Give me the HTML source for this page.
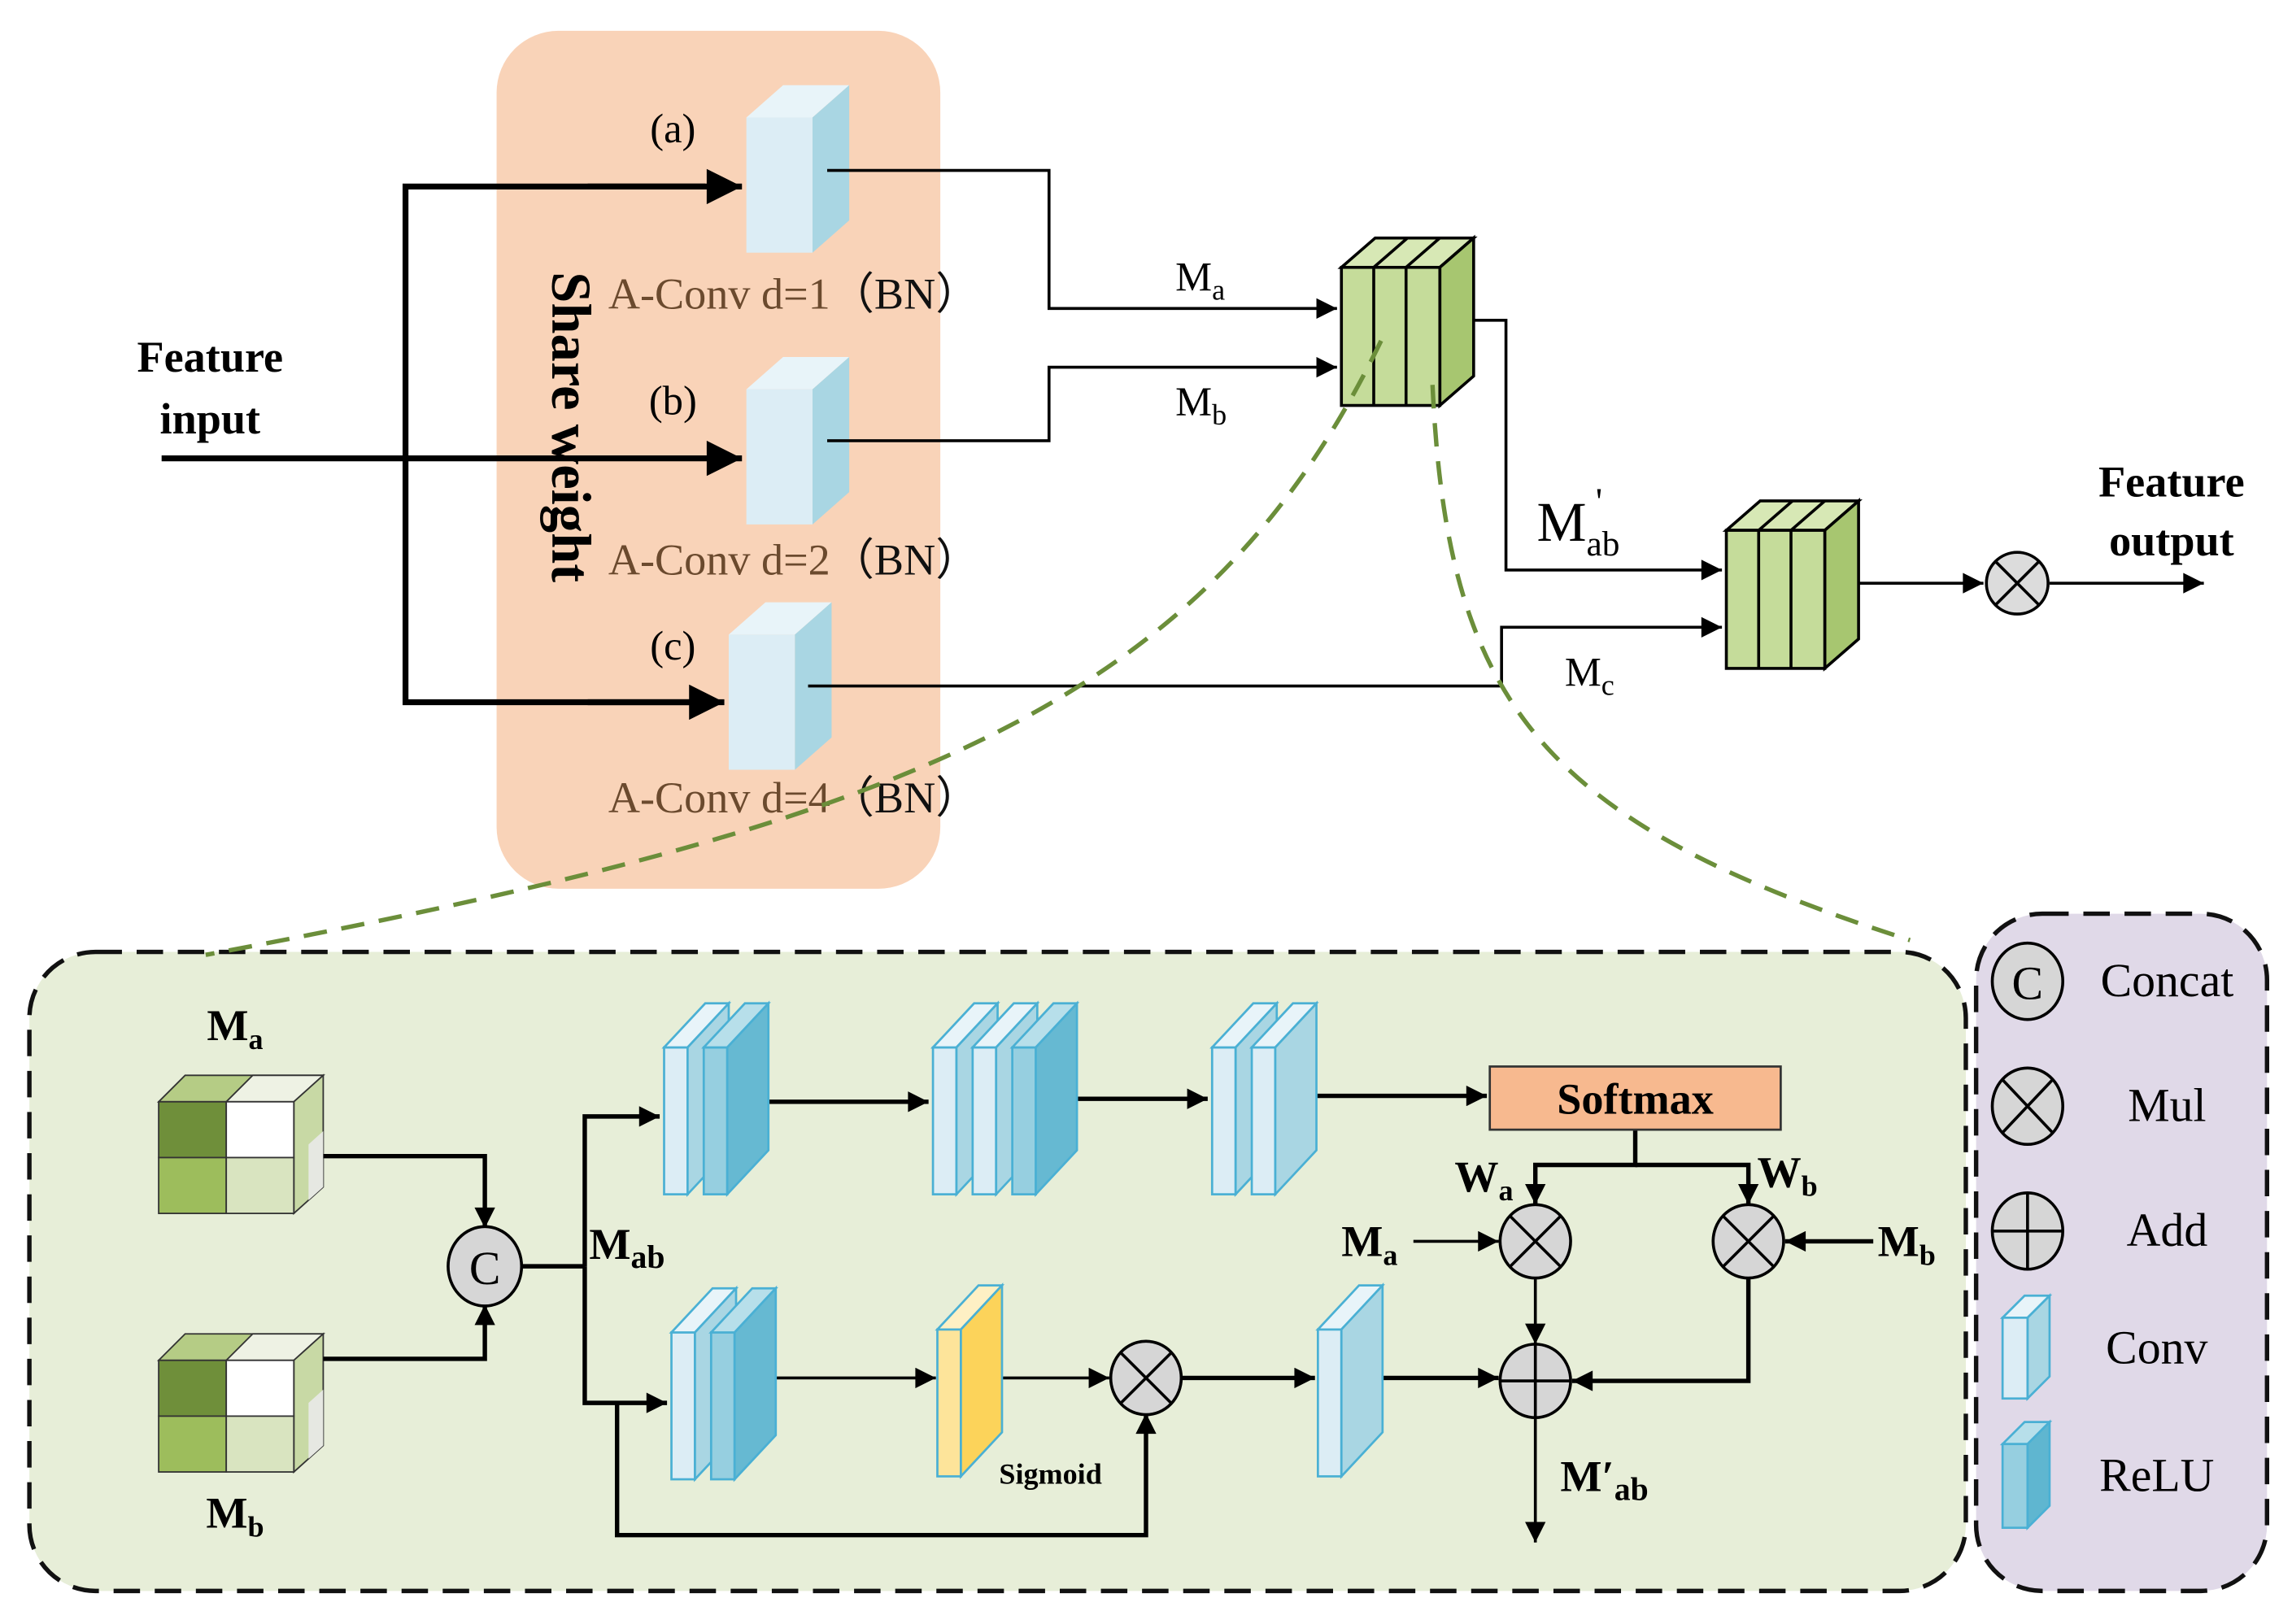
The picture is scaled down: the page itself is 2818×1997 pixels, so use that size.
<!DOCTYPE html>
<html><head><meta charset="utf-8">
<style>
html,body{margin:0;padding:0;background:#fff;}
svg{display:block;}
text{font-family:"Liberation Serif","Times New Roman",serif;}
.b{font-weight:bold;}
</style></head>
<body>
<svg width="2818" height="1997" viewBox="0 0 1560 1105.5" preserveAspectRatio="none" xmlns="http://www.w3.org/2000/svg">
<defs>
<marker id="ar" viewBox="0 0 10 10" refX="10" refY="5" markerWidth="16" markerHeight="14" markerUnits="userSpaceOnUse" orient="auto">
<path d="M0,0 L10,5 L0,10 z" fill="#000"/></marker>
<marker id="ab" viewBox="0 0 10 10" refX="10" refY="5" markerWidth="26" markerHeight="24" markerUnits="userSpaceOnUse" orient="auto">
<path d="M0,0 L10,5 L0,10 z" fill="#000"/></marker>
<g id="sl">
<rect x="0" y="30" width="16" height="100" fill="#dcedf5" stroke="#4ab0d4" stroke-width="1.5"/>
<polygon points="0,30 28,0 44,0 16,30" fill="#e8f4f9" stroke="#4ab0d4" stroke-width="1.5"/>
<polygon points="16,30 44,0 44,100 16,130" fill="#a9d6e3" stroke="#4ab0d4" stroke-width="1.5"/>
</g>
<g id="sd">
<rect x="0" y="30" width="16" height="100" fill="#96cfe0" stroke="#4ab0d4" stroke-width="1.5"/>
<polygon points="0,30 28,0 44,0 16,30" fill="#b7dfea" stroke="#4ab0d4" stroke-width="1.5"/>
<polygon points="16,30 44,0 44,100 16,130" fill="#66b9d2" stroke="#4ab0d4" stroke-width="1.5"/>
</g>
<g id="sy">
<rect x="0" y="30" width="16" height="100" fill="#fde49a" stroke="#4ab0d4" stroke-width="1.5"/>
<polygon points="0,30 28,0 44,0 16,30" fill="#fef0c4" stroke="#4ab0d4" stroke-width="1.5"/>
<polygon points="16,30 44,0 44,100 16,130" fill="#fcd35a" stroke="#4ab0d4" stroke-width="1.5"/>
</g>
<g id="cube">
<polygon points="0,18 18,0 112,0 92,18" fill="#b5cc85" stroke="#333" stroke-width="1"/>
<polygon points="46,18 64,0 112,0 92,18" fill="#eef2e4" stroke="#333" stroke-width="1"/>
<polygon points="92,18 112,0 112,76 92,94" fill="#c8d9a5" stroke="#333" stroke-width="1"/>
<polygon points="102,47 112,38 112,76 102,85" fill="#e6e8e2"/>
<rect x="0" y="18" width="46" height="38" fill="#6f8f3a" stroke="#333" stroke-width="1"/>
<rect x="46" y="18" width="46" height="38" fill="#fff" stroke="#333" stroke-width="1"/>
<rect x="0" y="56" width="46" height="38" fill="#9dbd5c" stroke="#333" stroke-width="1"/>
<rect x="46" y="56" width="46" height="38" fill="#d9e4c0" stroke="#333" stroke-width="1"/>
</g>
<g id="gb">
<polygon points="0,20 23,0 90,0 67,20" fill="#d7e8b5" stroke="#000" stroke-width="2"/>
<line x1="22" y1="20" x2="45" y2="0" stroke="#000" stroke-width="2"/>
<line x1="44" y1="20" x2="67" y2="0" stroke="#000" stroke-width="2"/>
<polygon points="67,20 90,0 90,94 67,114" fill="#a7c670" stroke="#000" stroke-width="2"/>
<rect x="0" y="20" width="67" height="94" fill="#c5dc9a" stroke="#000" stroke-width="2"/>
<line x1="22" y1="20" x2="22" y2="114" stroke="#000" stroke-width="2"/>
<line x1="44" y1="20" x2="44" y2="114" stroke="#000" stroke-width="2"/>
</g>
<g id="big">
<polygon points="0,22 25,0 70,0 45,22" fill="#e8f4f9"/>
<polygon points="45,22 70,0 70,92 45,114" fill="#a9d6e3"/>
<rect x="0" y="22" width="45" height="92" fill="#dcedf5"/>
</g>
</defs>

<rect x="338" y="21" width="302" height="584" rx="42" fill="#f9d3b8"/>

<use href="#big" x="508" y="58"/>
<use href="#big" x="508" y="243"/>
<use href="#big" x="496" y="410"/>

<text x="458" y="97" font-size="28" text-anchor="middle">(a)</text>
<text x="458" y="282" font-size="28" text-anchor="middle">(b)</text>
<text x="458" y="449" font-size="28" text-anchor="middle">(c)</text>

<text x="414" y="210" font-size="30" fill="#6b4a2e">A-Conv d=1<tspan fill="#111">（BN）</tspan></text>
<text x="414" y="391" font-size="30" fill="#6b4a2e">A-Conv d=2<tspan fill="#111">（BN）</tspan></text>
<text x="414" y="553" font-size="30" fill="#6b4a2e">A-Conv d=4<tspan fill="#111">（BN）</tspan></text>

<text class="b" font-size="38" transform="translate(376,185) rotate(90)">Share weight</text>

<text class="b" x="143" y="253" font-size="30" text-anchor="middle">Feature</text>
<text class="b" x="143" y="295" font-size="30" text-anchor="middle">input</text>
<g stroke="#000" stroke-width="4" fill="none">
<line x1="110" y1="312" x2="505" y2="312" marker-end="url(#ab)"/>
<polyline points="480,127 276,127 276,478 470,478" stroke-linejoin="miter"/>
</g>
<line x1="400" y1="127" x2="505" y2="127" stroke="#000" stroke-width="4" marker-end="url(#ab)"/>
<line x1="400" y1="478" x2="493" y2="478" stroke="#000" stroke-width="4" marker-end="url(#ab)"/>

<g stroke="#000" stroke-width="2" fill="none">
<polyline points="563,116 714,116 714,210 910,210" marker-end="url(#ar)"/>
<polyline points="563,300 714,300 714,250 910,250" marker-end="url(#ar)"/>
<polyline points="1000,218 1025,218 1025,388 1172,388" marker-end="url(#ar)"/>
<polyline points="550,467 1022,467 1022,427 1172,427" marker-end="url(#ar)"/>
<line x1="1250" y1="397" x2="1350" y2="397" marker-end="url(#ar)"/>
<line x1="1395" y1="397" x2="1500" y2="397" marker-end="url(#ar)"/>
</g>
<text x="800" y="198" font-size="28">M<tspan font-size="20" dy="6">a</tspan></text>
<text x="800" y="283" font-size="28">M<tspan font-size="20" dy="6">b</tspan></text>
<text x="1046" y="368" font-size="38">M<tspan font-size="24" dy="10">ab</tspan></text>
<text x="1086" y="350" font-size="26">'</text>
<text x="1065" y="467" font-size="28">M<tspan font-size="20" dy="6">c</tspan></text>

<use href="#gb" x="913" y="162"/>
<use href="#gb" x="1175" y="341"/>

<circle cx="1373" cy="397" r="21" fill="#dcdcdc" stroke="#000" stroke-width="2"/>
<line x1="1358" y1="382" x2="1388" y2="412" stroke="#000" stroke-width="2"/>
<line x1="1388" y1="382" x2="1358" y2="412" stroke="#000" stroke-width="2"/>

<text class="b" x="1478" y="338" font-size="30" text-anchor="middle">Feature</text>
<text class="b" x="1478" y="378" font-size="30" text-anchor="middle">output</text>

<rect x="20" y="648" width="1318" height="435" rx="45" fill="#e7eed8" stroke="#111" stroke-width="3" stroke-dasharray="18,10"/>
<rect x="1345" y="622" width="198" height="461" rx="45" fill="#e0d9e8" stroke="#111" stroke-width="3" stroke-dasharray="18,10"/>

<path d="M940,232 C820,480 620,560 140,650" fill="none" stroke="#6b8e3a" stroke-width="3" stroke-dasharray="16,10"/>
<path d="M975,262 C985,480 1050,560 1300,640" fill="none" stroke="#6b8e3a" stroke-width="3" stroke-dasharray="16,10"/>

<text class="b" x="160" y="708" font-size="30" text-anchor="middle">M<tspan font-size="20" dy="6">a</tspan></text>
<use href="#cube" x="108" y="732"/>
<use href="#cube" x="108" y="908"/>
<text class="b" x="160" y="1040" font-size="30" text-anchor="middle">M<tspan font-size="20" dy="6">b</tspan></text>

<g stroke="#000" stroke-width="3" fill="none">
<polyline points="220,787 330,787 330,836" marker-end="url(#ar)"/>
<polyline points="220,925 330,925 330,888" marker-end="url(#ar)"/>
<line x1="355" y1="862" x2="398" y2="862"/>
<polyline points="398,862 398,760 449,760" marker-end="url(#ar)"/>
<polyline points="398,862 398,955 454,955" marker-end="url(#ar)"/>
<line x1="512" y1="750" x2="632" y2="750" marker-end="url(#ar)"/>
<line x1="722" y1="748" x2="822" y2="748" marker-end="url(#ar)"/>
<line x1="888" y1="746" x2="1012" y2="746" marker-end="url(#ar)"/>
<polyline points="1113,768 1113,793 1045,793 1045,820" marker-end="url(#ar)"/>
<polyline points="1113,793 1190,793 1190,820" marker-end="url(#ar)"/>
<line x1="962" y1="845" x2="1020" y2="845" stroke-width="2" marker-end="url(#ar)"/>
<line x1="1275" y1="845" x2="1215" y2="845" marker-end="url(#ar)"/>
<line x1="1045" y1="870" x2="1045" y2="915" stroke-width="2" marker-end="url(#ar)"/>
<polyline points="1190,870 1190,940 1070,940" marker-end="url(#ar)"/>
<line x1="528" y1="938" x2="637" y2="938" stroke-width="2" marker-end="url(#ar)"/>
<line x1="668" y1="938" x2="755" y2="938" stroke-width="2" marker-end="url(#ar)"/>
<polyline points="420,955 420,1045 780,1045 780,962" marker-end="url(#ar)"/>
<line x1="804" y1="938" x2="895" y2="938" marker-end="url(#ar)"/>
<line x1="930" y1="938" x2="1020" y2="938" marker-end="url(#ar)"/>
<line x1="1045" y1="965" x2="1045" y2="1050" stroke-width="2" marker-end="url(#ar)"/>
</g>

<ellipse cx="330" cy="862" rx="25" ry="27" fill="#d6d6d6" stroke="#000" stroke-width="2"/>
<text x="330" y="874" font-size="32" text-anchor="middle">C</text>
<text class="b" x="401" y="857" font-size="30">M<tspan font-size="22" dy="6">ab</tspan></text>

<use href="#sl" x="452" y="683"/><use href="#sd" x="479" y="683"/>
<use href="#sl" x="635" y="683"/><use href="#sl" x="662" y="683"/><use href="#sd" x="689" y="683"/>
<use href="#sl" x="825" y="683"/><use href="#sl" x="852" y="683"/>
<use href="#sl" x="457" y="877"/><use href="#sd" x="484" y="877"/>
<use href="#sy" x="638" y="875"/>
<use href="#sl" x="897" y="875"/>
<text class="b" x="715" y="1010" font-size="20" text-anchor="middle">Sigmoid</text>

<rect x="1014" y="726" width="198" height="43" fill="#f7b98f" stroke="#333" stroke-width="1.5"/>
<text class="b" x="1113" y="758" font-size="30" text-anchor="middle">Softmax</text>
<text class="b" x="990" y="811" font-size="30">W<tspan font-size="20" dy="6">a</tspan></text>
<text class="b" x="1196" y="808" font-size="30">W<tspan font-size="20" dy="6">b</tspan></text>
<text class="b" x="913" y="855" font-size="30">M<tspan font-size="20" dy="6">a</tspan></text>
<text class="b" x="1278" y="855" font-size="30">M<tspan font-size="20" dy="6">b</tspan></text>
<text class="b" x="1062" y="1015" font-size="30">M′<tspan font-size="22" dy="6">ab</tspan></text>

<g stroke="#000" stroke-width="2">
<ellipse cx="1045" cy="845" rx="24" ry="25" fill="#d6d6d6"/>
<line x1="1028" y1="828" x2="1062" y2="862"/><line x1="1062" y1="828" x2="1028" y2="862"/>
<ellipse cx="1190" cy="845" rx="24" ry="25" fill="#d6d6d6"/>
<line x1="1173" y1="828" x2="1207" y2="862"/><line x1="1207" y1="828" x2="1173" y2="862"/>
<ellipse cx="780" cy="938" rx="24" ry="25" fill="#d6d6d6"/>
<line x1="763" y1="921" x2="797" y2="955"/><line x1="797" y1="921" x2="763" y2="955"/>
<ellipse cx="1045" cy="940" rx="24" ry="25" fill="#d6d6d6"/>
<line x1="1021" y1="940" x2="1069" y2="940"/><line x1="1045" y1="915" x2="1045" y2="965"/>
</g>

<g stroke="#000" stroke-width="2">
<ellipse cx="1380" cy="668" rx="24" ry="26" fill="#d6d6d6"/>
<ellipse cx="1380" cy="753" rx="24" ry="26" fill="#d6d6d6"/>
<line x1="1363" y1="735" x2="1397" y2="771"/><line x1="1397" y1="735" x2="1363" y2="771"/>
<ellipse cx="1380" cy="838" rx="24" ry="26" fill="#d6d6d6"/>
<line x1="1356" y1="838" x2="1404" y2="838"/><line x1="1380" y1="812" x2="1380" y2="864"/>
</g>
<text x="1380" y="680" font-size="32" text-anchor="middle">C</text>
<text x="1475" y="678" font-size="32" text-anchor="middle">Concat</text>
<text x="1475" y="763" font-size="32" text-anchor="middle">Mul</text>
<text x="1475" y="848" font-size="32" text-anchor="middle">Add</text>
<text x="1468" y="928" font-size="32" text-anchor="middle">Conv</text>
<text x="1468" y="1015" font-size="32" text-anchor="middle">ReLU</text>
<g stroke="#4ab0d4" stroke-width="1.5">
<polygon points="1363,897 1378,882 1395,882 1380,897" fill="#e8f4f9"/>
<polygon points="1380,897 1395,882 1395,937 1380,952" fill="#a9d6e3"/>
<rect x="1363" y="897" width="17" height="55" fill="#dcedf5"/>
<polygon points="1363,983 1378,968 1395,968 1380,983" fill="#b7dfea"/>
<polygon points="1380,983 1395,968 1395,1025 1380,1040" fill="#5fb6d0"/>
<rect x="1363" y="983" width="17" height="57" fill="#96cfe0"/>
</g>
</svg>
</body></html>
